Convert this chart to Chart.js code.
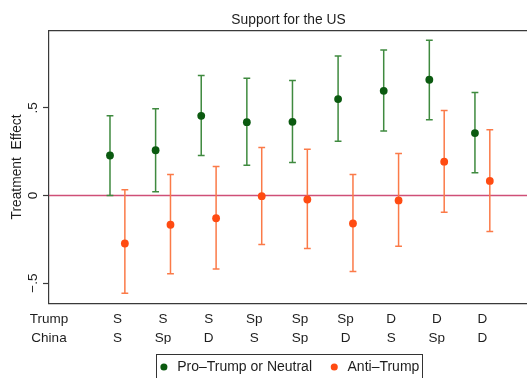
<!DOCTYPE html>
<html>
<head>
<meta charset="utf-8">
<script src="https://cdn.jsdelivr.net/npm/chart.js@4/dist/chart.umd.min.js"></script>
<style>
  html, body { margin: 0; padding: 0; background: #fff; overflow: hidden; }
  #wrap { position: absolute; left: 0; top: 0; width: 532px; height: 384px; }
</style>
</head>
<body>
<div id="wrap"><canvas id="c" width="532" height="384"></canvas></div>
<script>
// Treatment conditions: Trump message / China message
const trumpLevels = ['S', 'S', 'S', 'Sp', 'Sp', 'Sp', 'D', 'D', 'D'];
const chinaLevels = ['S', 'Sp', 'D', 'S', 'Sp', 'D', 'S', 'Sp', 'D'];
const rowNames = ['Trump', 'China'];

// Pro-Trump or Neutral respondents: estimate and 95% interval
const proEst = [0.228, 0.258, 0.454, 0.418, 0.420, 0.550, 0.597, 0.660, 0.356];
const proLow = [0.000, 0.021, 0.228, 0.172, 0.188, 0.309, 0.368, 0.432, 0.129];
const proHigh = [0.455, 0.494, 0.684, 0.668, 0.656, 0.795, 0.829, 0.886, 0.587];

// Anti-Trump respondents: estimate and 95% interval
const antiEst = [-0.274, -0.167, -0.130, -0.004, -0.023, -0.160, -0.028, 0.193, 0.083];
const antiLow = [-0.557, -0.447, -0.419, -0.280, -0.303, -0.434, -0.290, -0.095, -0.205];
const antiHigh = [0.032, 0.119, 0.165, 0.274, 0.263, 0.119, 0.240, 0.485, 0.375];

// Y axis ticks
const yTickValues = [-0.5, 0, 0.5];
const yTickLabels = ['\u2212.5', '0', '.5'];

const FONT = "'Liberation Sans', Arial, Helvetica, sans-serif";
const TEXT = '#1e1e1e';
const AXIS = '#3a3a3a';
const DODGE = 0.163; // horizontal offset of the two groups within a condition

const toPoints = (vals, shift) => vals.map((v, i) => ({ x: i + 1 + shift, y: v }));

// Whiskers with caps, drawn from each dataset's interval arrays
const errorBars = {
  id: 'errorBars',
  beforeDatasetsDraw(chart) {
    const { ctx, chartArea, scales: { y } } = chart;
    ctx.save();
    // reference line at zero
    const y0 = y.getPixelForValue(0);
    ctx.strokeStyle = '#cf4f77';
    ctx.lineWidth = 1.4;
    ctx.beginPath();
    ctx.moveTo(chartArea.left, y0);
    ctx.lineTo(chartArea.right, y0);
    ctx.stroke();
    chart.data.datasets.forEach((ds, di) => {
      const meta = chart.getDatasetMeta(di);
      ctx.strokeStyle = ds.whiskerColor;
      ctx.lineWidth = 1.5;
      meta.data.forEach((pt, i) => {
        const px = pt.x;
        const yl = y.getPixelForValue(ds.ciLow[i]);
        const yh = y.getPixelForValue(ds.ciHigh[i]);
        const cap = 3.4;
        ctx.beginPath();
        ctx.moveTo(px, yl); ctx.lineTo(px, yh);
        ctx.moveTo(px - cap, yh); ctx.lineTo(px + cap, yh);
        ctx.moveTo(px - cap, yl); ctx.lineTo(px + cap, yl);
        ctx.stroke();
      });
    });
    ctx.restore();
  },
  afterDraw(chart) {
    const { ctx, chartArea } = chart;
    ctx.save();
    // frame of the plot region
    ctx.strokeStyle = AXIS;
    ctx.lineWidth = 1.2;
    ctx.beginPath();
    ctx.moveTo(chartArea.left, chartArea.top);
    ctx.lineTo(chartArea.right, chartArea.top);
    ctx.stroke();
    // frame around the legend
    const hb = chart.legend.legendHitBoxes;
    if (hb && hb.length) {
      const first = hb[0], last = hb[hb.length - 1];
      const l = first.left - 2;
      const r = last.left + last.width + 2;
      const t = first.top - 6;
      ctx.strokeStyle = '#333';
      ctx.lineWidth = 1;
      ctx.strokeRect(Math.round(l) + 0.5, Math.round(t) + 0.5, Math.round(r - l), chart.height);
    }
    ctx.restore();
  }
};

new Chart(document.getElementById('c'), {
  type: 'scatter',
  data: {
    datasets: [
      {
        label: 'Pro\u2013Trump or Neutral',
        data: toPoints(proEst, -DODGE),
        ciLow: proLow,
        ciHigh: proHigh,
        backgroundColor: '#0b5a10',
        borderColor: '#0b5a10',
        whiskerColor: '#3f8a3f',
        pointRadius: 3.9,
        borderWidth: 0
      },
      {
        label: 'Anti\u2013Trump',
        data: toPoints(antiEst, DODGE),
        ciLow: antiLow,
        ciHigh: antiHigh,
        backgroundColor: '#ff4b12',
        borderColor: '#ff4b12',
        whiskerColor: '#fb7a48',
        pointRadius: 3.9,
        borderWidth: 0
      }
    ]
  },
  options: {
    responsive: false,
    animation: false,
    events: [],
    layout: { padding: { left: 0, right: 0, top: 0, bottom: 0 } },
    scales: {
      x: {
        type: 'linear',
        min: -0.5,
        max: 10,
        afterBuildTicks(scale) {
          scale.ticks = [-0.5].concat(trumpLevels.map((_, i) => i + 1)).map(v => ({ value: v }));
        },
        afterFit(scale) { scale.height = 40.7; },
        ticks: {
          autoSkip: false,
          maxRotation: 0,
          padding: 7,
          color: TEXT,
          font: { family: FONT, size: 13.5, lineHeight: 1.4 },
          callback(value) {
            if (value < 0) return rowNames;
            const i = Math.round(value) - 1;
            return [trumpLevels[i], chinaLevels[i]];
          }
        },
        grid: { display: false, drawTicks: false },
        border: { color: AXIS, width: 1.2 }
      },
      y: {
        type: 'linear',
        min: -0.615,
        max: 0.94,
        afterBuildTicks(scale) {
          scale.ticks = yTickValues.map(v => ({ value: v }));
        },
        afterFit(scale) { scale.width = 49; },
        ticks: {
          minRotation: 90,
          maxRotation: 90,
          crossAlign: 'center',
          padding: 0,
          color: TEXT,
          font: { family: FONT, size: 13.5 },
          callback(value) {
            const k = yTickValues.indexOf(value);
            return k >= 0 ? yTickLabels[k] : '';
          }
        },
        grid: { drawOnChartArea: false, drawTicks: true, tickLength: 6, color: AXIS, tickWidth: 1.2 },
        border: { color: AXIS, width: 1.2 },
        title: {
          display: true,
          text: 'Treatment  Effect',
          color: TEXT,
          font: { family: FONT, size: 13.8 },
          padding: { top: 9, bottom: 0 }
        }
      }
    },
    plugins: {
      title: {
        display: true,
        fullSize: false,
        text: 'Support for the US',
        color: TEXT,
        font: { family: FONT, size: 13.8, weight: 'normal', lineHeight: 1.2 },
        padding: { top: 12.4, bottom: 1.7 }
      },
      legend: {
        position: 'bottom',
        fullSize: false,
        labels: {
          usePointStyle: true,
          pointStyle: 'circle',
          boxWidth: 12.5,
          boxHeight: 5,
          padding: 16,
          color: TEXT,
          font: { family: FONT, size: 14 }
        }
      },
      tooltip: { enabled: false }
    }
  },
  plugins: [errorBars]
});
</script>
</body>
</html>
